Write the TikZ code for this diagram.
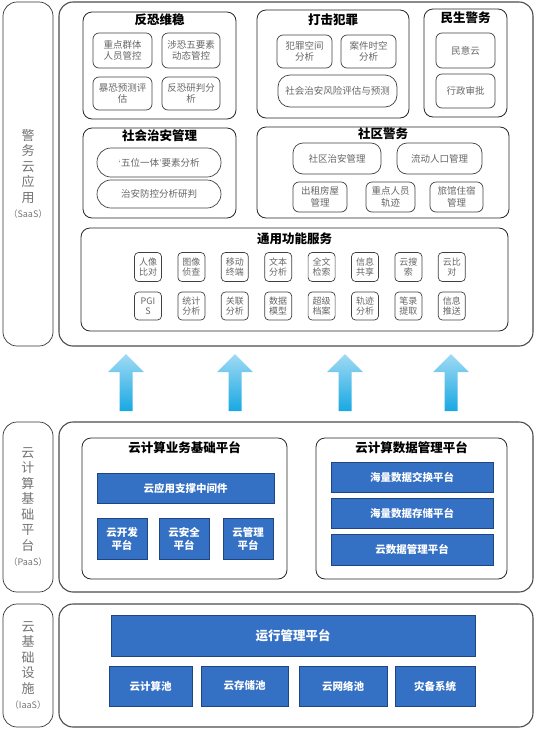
\documentclass[tikz,border=0pt]{standalone}
\usepackage{fontspec}
\newfontfamily\cjk{Noto Sans CJK SC}
\definecolor{cloudblue}{RGB}{52,112,196}
\definecolor{cloudedge}{RGB}{30,70,130}
\definecolor{arrowtop}{RGB}{160,218,244}
\definecolor{arrowbot}{RGB}{24,168,226}
\begin{document}
\begin{tikzpicture}[x=1pt,y=-1pt,
  every node/.style={font=\cjk\fontsize{9.5}{11.5}\selectfont,align=center,inner sep=0pt},
  wh/.style 2 args={minimum width=#1,minimum height=#2},
  layer/.style={draw=black!70,line width=1.1pt,rounded corners=14pt},
  side/.style={draw=black!80,line width=0.7pt,rounded corners=14pt,text=black!55,font=\cjk\fontsize{13}{15.5}\selectfont},
  grp/.style={draw=black!85,line width=0.8pt,rounded corners=9pt},
  ttl/.style={font=\cjk\bfseries\fontsize{12.5}{14}\selectfont},
  itm/.style={draw=black!75,line width=0.7pt,rounded corners=6pt,text=black!60},
  fn/.style={itm,wh={27}{29},rounded corners=4pt,font=\cjk\fontsize{9}{10.5}\selectfont},
  blu/.style={draw=cloudedge,line width=0.7pt,fill=cloudblue,text=white,font=\cjk\bfseries\fontsize{10.5}{13}\selectfont}]
\useasboundingbox (0,0) rectangle (552,729);
% side labels
\node[side,wh={50}{344}] (saas) at (28,174) {警\\务\\云\\应\\用\\{\fontsize{9}{10}\selectfont （SaaS）}};
\node[side,wh={50}{170}] (paas) at (28,507) {云\\计\\算\\基\\础\\平\\台\\{\fontsize{9}{10}\selectfont （PaaS）}};
\node[side,wh={50}{123}] (iaas) at (28,665.5) {云\\基\\础\\设\\施\\{\fontsize{9}{10}\selectfont （IaaS）}};
% layer frames
\node[layer,wh={474}{344}] (apps) at (296,174) {};
\node[layer,wh={474}{170}] (base) at (296,507) {};
\node[layer,wh={474}{123}] (infra) at (296,665.5) {};
% SaaS: groups
\node[grp,wh={153}{107}] (antiterror) at (159.5,65.5) {};
\node[ttl] (antiterrort) at (159.5,20) {反恐维稳};
\node[grp,wh={152}{108}] (crime) at (333,64) {};
\node[ttl] (crimet) at (333,20) {打击犯罪};
\node[grp,wh={83}{108}] (livelihood) at (465.5,63) {};
\node[ttl] (livelihoodt) at (465.5,18) {民生警务};
\node[grp,wh={153}{90}] (order) at (159.5,173) {};
\node[ttl] (ordert) at (159.5,136) {社会治安管理};
\node[grp,wh={252}{91}] (community) at (383,172.5) {};
\node[ttl] (communityt) at (383,134) {社区警务};
\node[grp,wh={427}{103}] (common) at (294.5,279.5) {};
\node[ttl] (commont) at (294.5,239) {通用功能服务};
% SaaS: items
\node[itm,wh={59}{35}] (keygroup) at (122.5,50.5) {重点群体\\人员管控};
\node[itm,wh={58}{35}] (fivefactor) at (191,50.5) {涉恐五要素\\动态管控};
\node[itm,wh={59}{33}] (forecast) at (122.5,93.5) {暴恐预测评\\估};
\node[itm,wh={58}{33}] (judge) at (191,93.5) {反恐研判分\\析};
\node[itm,wh={55}{33}] (space) at (304.5,51.5) {犯罪空间\\分析};
\node[itm,wh={55}{33}] (casetime) at (368.5,51.5) {案件时空\\分析};
\node[itm,wh={119}{32},rounded corners=12pt] (risk) at (337.5,91) {社会治安风险评估与预测};
\node[itm,wh={59}{35}] (opinion) at (465.5,50.5) {民意云};
\node[itm,wh={59}{34}] (approval) at (465.5,91) {行政审批};
\node[itm,wh={124}{29},rounded corners=14pt] (fivein) at (159,162.5) {{\rmfamily ‘}五位一体{\rmfamily ’}要素分析};
\node[itm,wh={124}{28},rounded corners=14pt] (prevent) at (159,194) {治安防控分析研判};
\node[itm,wh={88}{31},rounded corners=10pt] (commorder) at (337,158.5) {社区治安管理};
\node[itm,wh={85}{31},rounded corners=10pt] (floating) at (439.5,158.5) {流动人口管理};
\node[itm,wh={54}{30}] (rental) at (320,197) {出租房屋\\管理};
\node[itm,wh={49}{30}] (track) at (390.5,197) {重点人员\\轨迹};
\node[itm,wh={53}{30}] (hotel) at (456.5,197) {旅馆住宿\\管理};
% common services, two rows
\foreach \t [count=\i] in {人像\\比对,图像\\侦查,移动\\终端,文本\\分析,全文\\检索,信息\\共享,云搜\\索,云比\\对}
  \node[fn] (fa\i) at ({148+43.4*(\i-1)},267) {\t};
\foreach \t [count=\i] in {PGI\\S,统计\\分析,关联\\分析,数据\\模型,超级\\档案,轨迹\\分析,笔录\\提取,信息\\推送}
  \node[fn,minimum height=28] (fb\i) at ({148+43.4*(\i-1)},306) {\t};
% block arrows SaaS <- PaaS
\foreach \ax in {126,235,345,451}
  \shade[top color=arrowtop,bottom color=arrowbot]
    (\ax-6.5,411) -- (\ax-6.5,372) -- (\ax-18,372) -- (\ax,354) -- (\ax+18,372) -- (\ax+6.5,372) -- (\ax+6.5,411) -- cycle;
% PaaS
\node[grp,wh={205}{141}] (bizbase) at (184.5,508.5) {};
\node[ttl] (bizbaset) at (184.5,448) {云计算业务基础平台};
\node[grp,wh={191}{141}] (datamgmt) at (411.5,508.5) {};
\node[ttl] (datamgmtt) at (411.5,448) {云计算数据管理平台};
\node[blu,wh={177}{30}] (middleware) at (185.5,488) {云应用支撑中间件};
\node[blu,wh={50}{41}] (devplat) at (122,538.5) {云开发\\平台};
\node[blu,wh={50}{41}] (secplat) at (184,538.5) {云安全\\平台};
\node[blu,wh={50}{41}] (mgmtplat) at (248,538.5) {云管理\\平台};
\node[blu,wh={162}{30}] (exchange) at (412,477) {海量数据交换平台};
\node[blu,wh={162}{30}] (storage) at (412,513) {海量数据存储平台};
\node[blu,wh={162}{31}] (clouddata) at (412,549.5) {云数据管理平台};
% IaaS
\node[blu,wh={364}{41},font=\cjk\bfseries\fontsize{12.5}{14}\selectfont] (ops) at (293,635.5) {运行管理平台};
\node[blu,wh={83}{40}] (compute) at (150.5,686) {云计算池};
\node[blu,wh={87}{40}] (store) at (244.5,686) {云存储池};
\node[blu,wh={88}{40}] (network) at (343,686) {云网络池};
\node[blu,wh={80}{40}] (backup) at (435,686) {灾备系统};
\end{tikzpicture}
\end{document}
